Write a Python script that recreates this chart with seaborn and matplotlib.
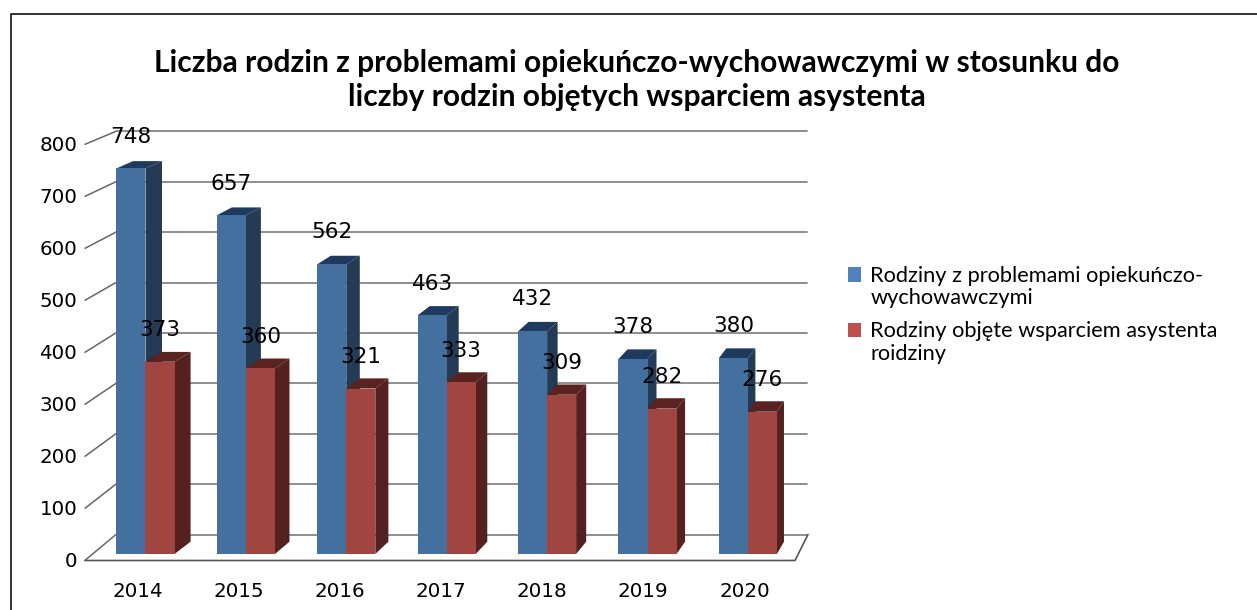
import numpy as np
import pandas as pd
import matplotlib
matplotlib.use("Agg")
import matplotlib.pyplot as plt
from matplotlib.patches import Polygon, Patch, Rectangle
from matplotlib.legend_handler import HandlerPatch
import seaborn as sns

years = ["2014", "2015", "2016", "2017", "2018", "2019", "2020"]
problem_families = [748, 657, 562, 463, 432, 378, 380]
assisted_families = [373, 360, 321, 333, 309, 282, 276]
series_names = ["Rodziny z problemami opiekuńczo-\nwychowawczymi",
                "Rodziny objęte wsparciem asystenta\nroidziny"]
y_ticks = [0, 100, 200, 300, 400, 500, 600, 700, 800]
title = ("Liczba rodzin z problemami opiekuńczo-wychowawczymi w stosunku do\n"
         "liczby rodzin objętych wsparciem asystenta")

W, H = 1257, 610
front_colors = ["#44709F", "#A04540"]
side_colors = ["#253A55", "#552120"]
top_colors = ["#1F3A5E", "#5A2220"]
legend_colors = ["#4F81BD", "#C0504D"]
grid_color = "#868686"

df = pd.DataFrame({
    "rok": years * 2,
    "liczba": problem_families + assisted_families,
    "seria": [series_names[0]] * 7 + [series_names[1]] * 7,
})

sns.set_theme(style="white")
plt.rcParams["font.family"] = ["DejaVu Sans"]
fig = plt.figure(figsize=(W / 100, H / 100), dpi=100)


def px_axes(x0, y0, x1, y1, **kw):
    # axes placed by pixel box, y counted from the top of the image
    return fig.add_axes([x0 / W, 1 - y1 / H, (x1 - x0) / W, (y1 - y0) / H], **kw)


# wall, floor and frame, in image pixels
deco = px_axes(0, 0, W, H, zorder=0)
deco.set_xlim(0, W)
deco.set_ylim(H, 0)
deco.axis("off")
deco.plot([11, 11, W], [H, 14, 14], color="#111111", lw=1.2)
front_y = [560.3 - 52.0 * t / 100 for t in y_ticks]
wall_y = [534.5 - 50.4 * t / 100 for t in y_ticks]
for fy, wy in zip(front_y, wall_y):
    deco.plot([85, 116], [fy, wy], color="#666666", lw=1.1)
    deco.plot([116, 807], [wy, wy], color=grid_color, lw=1.3)
deco.plot([85, 795, 808], [560.5, 560.5, 534.5], color="#555555", lw=1.2)

# real axis with ticks, on the floor front edge
front = px_axes(87, front_y[-1] - 1, 795, front_y[0] - 1, zorder=1)
front.patch.set_alpha(0)
front.set_xlim(-0.5, 6.5)
front.set_ylim(0, 800)
front.set_xticks(range(len(years)))
front.set_xticklabels(years)
front.set_yticks(y_ticks)
front.tick_params(axis="both", length=0, labelsize=14.3, labelcolor="#000000")
front.tick_params(axis="y", pad=7)
front.tick_params(axis="x", pad=16)
sns.despine(ax=front, left=True, bottom=True)

# bars: x unit 100.4 px with 2014 centred on 145.5, y 0.5155 px per family, base at 554
ax = px_axes(0, 0, W, H, zorder=2)
ax.patch.set_alpha(0)
sns.barplot(data=df, x="rok", y="liczba", hue="seria", hue_order=series_names,
            palette=front_colors, saturation=1, width=0.578, gap=0, dodge=True,
            legend=False, linewidth=0, ax=ax, zorder=3)
ax.set_xlim(-145.5 / 100.4, (W - 145.5) / 100.4)
ax.set_ylim((554 - H) / 0.5155, 554 / 0.5155)
ax.axis("off")


def depth(x):
    # perspective: the side faces get narrower to the right
    return (16.5 - 1.5 * x) / 100.4


def back(v):
    # back edge of a bar: floor 12 px up, slightly flatter scale
    return v * 0.987 + 12.3 / 0.5155


for i, cont in enumerate(ax.containers):
    for bar in cont:
        x0, x1 = bar.get_x(), bar.get_x() + bar.get_width()
        v = bar.get_height()
        d = depth(x1)
        ax.add_patch(Polygon([(x1, 0), (x1 + d, back(0)), (x1 + d, back(v)), (x1, v)],
                             closed=True, fc=side_colors[i], ec="none", zorder=1.5 + i * 0.3))
        ax.add_patch(Polygon([(x0, v), (x0 + d, back(v)), (x1 + d, back(v)), (x1, v)],
                             closed=True, fc=top_colors[i], ec="none", zorder=1.5 + i * 0.3))
    ax.bar_label(cont, fmt="%d", padding=15.7, fontsize=15.5, color="#000000", zorder=6)

# title and legend sit above everything
fig.text(637 / W, 1 - 80 / H, title, ha="center", va="center", fontsize=21.6,
         fontweight="bold", family="Lato", color="#000000", linespacing=1.27)


def first_line_swatch(legend, orig_handle, xdescent, ydescent, width, height, fontsize):
    # swatch beside the first of the two text lines
    return Rectangle((-xdescent, -ydescent + 9), width, height)


handles = [Patch(fc=c, ec="none", label=n) for c, n in zip(legend_colors, series_names)]
leg = fig.legend(handles=handles, loc="upper left", bbox_to_anchor=(828 / W, 1 - 246 / H),
                 frameon=False, prop={"family": "Lato", "size": 15.7}, handlelength=0.62,
                 handleheight=0.62, handletextpad=0.42, labelspacing=0.63, alignment="left",
                 handler_map={Patch: HandlerPatch(patch_func=first_line_swatch)})
for t in leg.get_texts():
    t.set_color("#000000")
    t.set_linespacing(1.13)

fig.savefig("out.png", dpi=100)
